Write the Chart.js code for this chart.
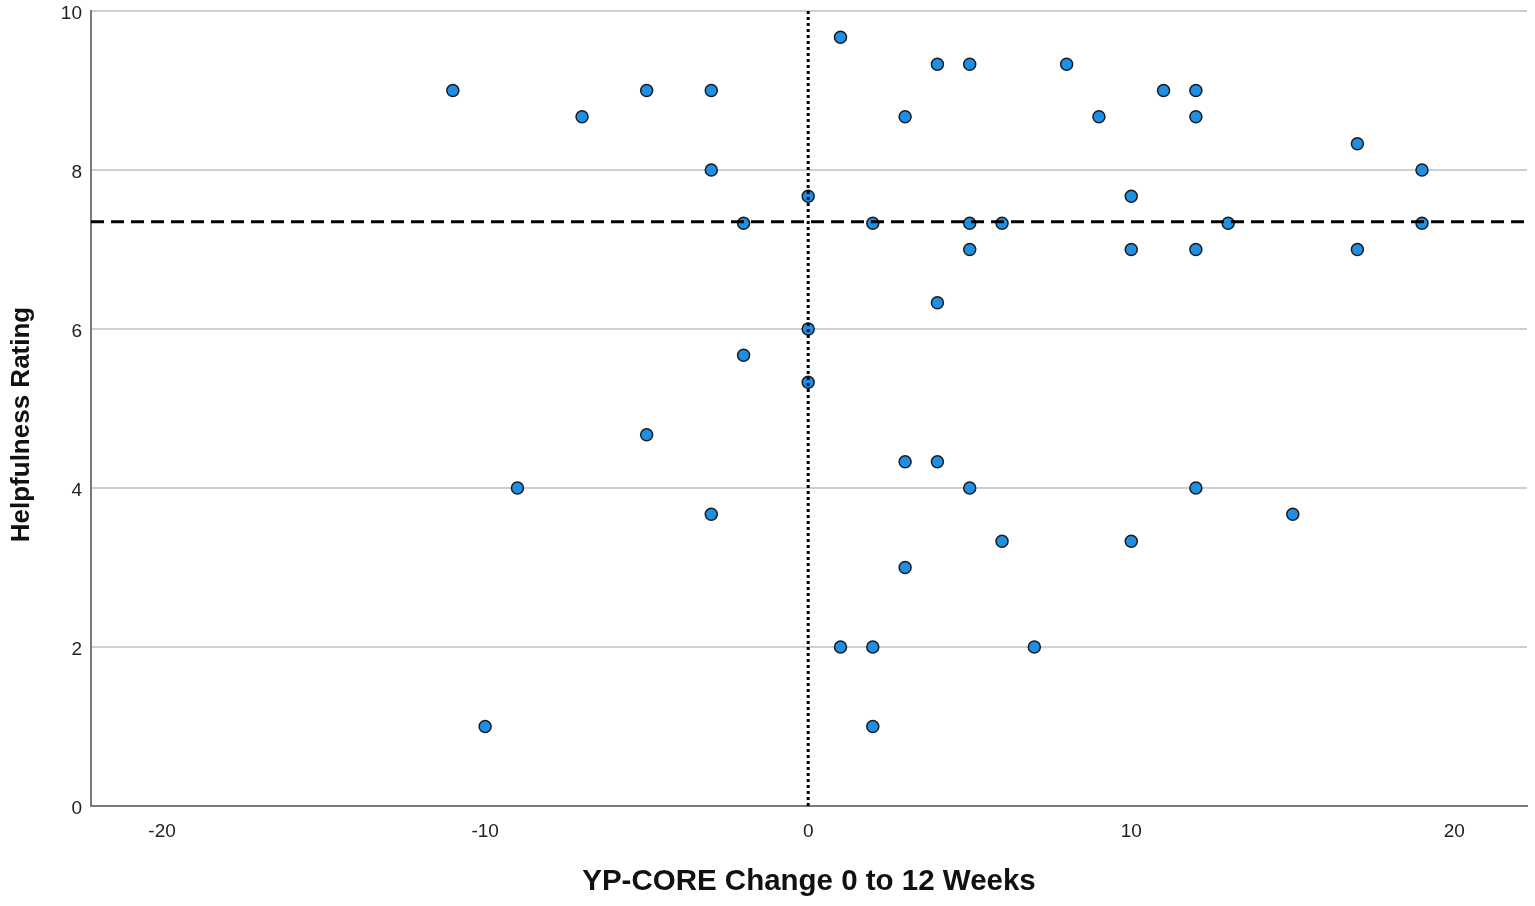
<!DOCTYPE html>
<html>
<head>
<meta charset="utf-8">
<title>Helpfulness vs YP-CORE change</title>
<script src="https://cdn.jsdelivr.net/npm/chart.js@4/dist/chart.umd.min.js"></script>
<style>
  html, body { margin: 0; padding: 0; background: #fff; }
  #wrap { width: 1535px; height: 906px; }
</style>
</head>
<body>
<div id="wrap"><canvas id="scatter" width="1535" height="906"></canvas></div>
<script>
// YP-CORE change (0 to 12 weeks) for each participant
const ypChange = [
  -11, -7, -5, -3, -3, -2, 0, 1, 2, 3,
  4, 5, 5, 5, 6, 8, 9, 10, 10, 11,
  12, 12, 12, 13, 17, 17, 19, 19, 4, 0,
  -2, 0, -5, -9, -3, 3, 4, 5, 12, 15,
  6, 10, 3, 1, 2, 7, -10, 2
];
// helpfulness rating for each participant (same order)
const helpRating = [
  9, 8.67, 9, 9, 8, 7.33, 7.67, 9.67, 7.33, 8.67,
  9.33, 9.33, 7.33, 7, 7.33, 9.33, 8.67, 7.67, 7, 9,
  9, 8.67, 7, 7.33, 8.33, 7, 8, 7.33, 6.33, 6,
  5.67, 5.33, 4.67, 4, 3.67, 4.33, 4.33, 4, 4, 3.67,
  3.33, 3.33, 3, 2, 2, 2, 1, 1
];
const meanRating = 7.35;   // dashed reference line
const zeroChange = 0;      // dotted reference line
const xTicks = [-20, -10, 0, 10, 20];
const yTicks = [0, 2, 4, 6, 8, 10];
const xMin = -22.2, xMax = 22.25;
const yMin = 0, yMax = 10;
const yTitle = 'Helpfulness Rating';

const font = 'Liberation Sans, Arial';

// y axis title, SPSS puts it a bit below the middle of the axis
const yTitlePlugin = {
  id: 'yTitle',
  afterDraw(chart) {
    const c = chart.ctx;
    const a = chart.chartArea;
    c.save();
    c.translate(22, (a.top + a.bottom) / 2 + 16);
    c.rotate(-Math.PI / 2);
    c.fillStyle = '#111';
    c.font = 'bold 26px ' + font;
    c.textAlign = 'center';
    c.textBaseline = 'middle';
    c.fillText(yTitle, 0, 0);
    c.restore();
  }
};

document.addEventListener('DOMContentLoaded', function() {
  const ctx = document.getElementById('scatter').getContext('2d');
  const points = ypChange.map((x, i) => ({ x: x, y: helpRating[i] }));

  new Chart(ctx, {
    type: 'scatter',
    data: {
      datasets: [
        {
          type: 'line',
          data: [{ x: xMin, y: meanRating }, { x: xMax, y: meanRating }],
          borderColor: '#000',
          borderWidth: 3,
          borderDash: [13, 7],
          pointRadius: 0,
          order: 0
        },
        {
          type: 'line',
          data: [{ x: zeroChange, y: yMin }, { x: zeroChange, y: yMax }],
          borderColor: '#000',
          borderWidth: 3,
          borderDash: [3, 3],
          pointRadius: 0,
          order: 0
        },
        {
          data: points,
          backgroundColor: '#1E8FE5',
          borderColor: '#1c1c1c',
          borderWidth: 1.5,
          pointRadius: 6,
          order: 1
        }
      ]
    },
    options: {
      responsive: false,
      animation: false,
      devicePixelRatio: 1,
      layout: { padding: { top: 11, right: 8, bottom: 0, left: 0 } },
      plugins: { legend: { display: false }, tooltip: { enabled: false } },
      scales: {
        x: {
          type: 'linear',
          min: xMin,
          max: xMax,
          afterBuildTicks: s => { s.ticks = xTicks.map(v => ({ value: v })); },
          afterFit: s => { s.height = 100; s.paddingLeft = 0; s.paddingRight = 0; },
          grid: { display: false, drawTicks: false },
          border: { display: true, color: '#7a7a7a', width: 2 },
          ticks: { padding: 14, color: '#222', font: { family: font, size: 19 } },
          title: {
            display: true,
            text: 'YP-CORE Change 0 to 12 Weeks',
            color: '#111',
            font: { family: font, size: 29.5, weight: 'bold' },
            padding: { top: 0, bottom: 6 }
          }
        },
        y: {
          type: 'linear',
          min: yMin,
          max: yMax,
          afterBuildTicks: s => { s.ticks = yTicks.map(v => ({ value: v })); },
          afterFit: s => { s.width = 91; s.paddingTop = 0; s.paddingBottom = 0; },
          grid: { color: '#cfcfcf', lineWidth: 2, drawTicks: false },
          border: { display: true, color: '#7a7a7a', width: 2 },
          ticks: { padding: 9, labelOffset: 3, color: '#222', font: { family: font, size: 19 } }
        }
      }
    },
    plugins: [yTitlePlugin]
  });
});
</script>
</body>
</html>
